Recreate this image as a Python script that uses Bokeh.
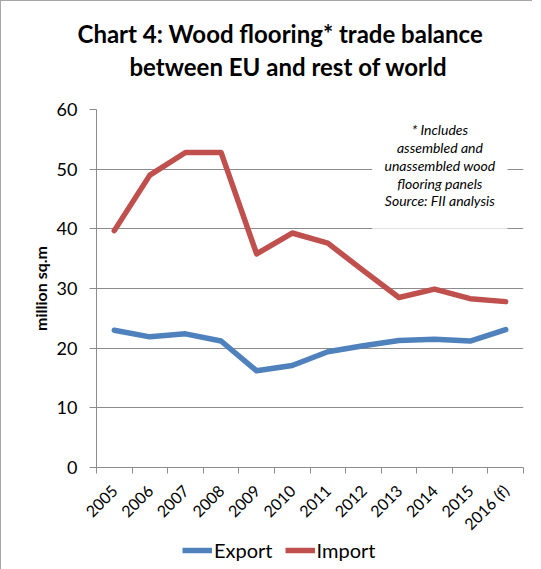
from bokeh.plotting import figure
from bokeh.layouts import column
from bokeh.models import Range1d, FixedTicker, Title, Legend, LegendItem, BoxAnnotation
from bokeh.embed import file_html
from bokeh.resources import INLINE
from bokeh.core.properties import value

years = ["2005", "2006", "2007", "2008", "2009", "2010", "2011", "2012",
         "2013", "2014", "2015", "2016 (f)"]
export = [23.0, 21.9, 22.4, 21.2, 16.2, 17.1, 19.4, 20.4, 21.3, 21.5, 21.2, 23.1]
imports = [39.7, 49.0, 52.8, 52.8, 35.8, 39.3, 37.6, 33.0, 28.5, 29.9, 28.3, 27.8]
y_ticks = [0, 10, 20, 30, 40, 50, 60]
note_lines = ["* Includes", "assembled and", "unassembled wood",
              "flooring panels", "Source: FII analysis"]

FONT = "Lato"
GRAY = "#8c8c8c"
BLUE = "#4F81BD"
RED = "#C0504D"
BORDER = {"border-left": "1px solid #a6a6a6"}

xs = [i + 0.5 for i in range(len(years))]

p = figure(frame_width=426, frame_height=357, output_backend="svg", toolbar_location=None,
           title=None,
           x_range=Range1d(0, len(years)), y_range=Range1d(0, 60),
           min_border_left=95, min_border_right=10, min_border_top=108,
           min_border_bottom=72)
p.outline_line_color = None
p.styles = {"border-left": "1px solid #a6a6a6", "border-top": "1px solid #a6a6a6"}

# titles (two lines)
t2 = Title(text="between EU and rest of world", align="left", offset=33,
           text_font=FONT, text_font_size="24px", text_font_style="bold",
           text_color="black", standoff=58)
t1 = Title(text="Chart 4: Wood flooring* trade balance", align="left", offset=-19,
           text_font=FONT, text_font_size="24px", text_font_style="bold",
           text_color="black", standoff=-54)
p.add_layout(t2, "above")
p.add_layout(t1, "above")

# grid
p.xgrid.grid_line_color = None
p.ygrid.grid_line_color = GRAY
p.ygrid.grid_line_width = 1

# y axis
p.yaxis.ticker = FixedTicker(ticks=y_ticks)
p.yaxis.axis_line_color = GRAY
p.yaxis.major_tick_line_color = GRAY
p.yaxis.major_tick_out = 7
p.yaxis.major_tick_in = 0
p.yaxis.minor_tick_line_color = None
p.yaxis.major_label_text_font = FONT
p.yaxis.major_label_text_font_size = "18px"
p.yaxis.major_label_text_color = "black"
p.yaxis.major_label_standoff = 12
p.yaxis.axis_label = "million sq.m"
p.yaxis.axis_label_text_font = FONT
p.yaxis.axis_label_text_font_size = "16px"
p.yaxis.axis_label_text_font_style = "bold"
p.yaxis.axis_label_text_color = "black"
p.yaxis.axis_label_standoff = 4

# x axis: labels at centres, ticks between categories
p.xaxis.ticker = FixedTicker(ticks=xs, minor_ticks=list(range(len(years) + 1)))
p.xaxis.major_label_overrides = {x: y for x, y in zip(xs, years)}
p.xaxis.axis_line_color = GRAY
p.xaxis.major_tick_line_color = None
p.xaxis.minor_tick_line_color = GRAY
p.xaxis.minor_tick_out = 6
p.xaxis.minor_tick_in = 0
p.xaxis.major_label_orientation = 0.785398
p.xaxis.major_label_text_font = FONT
p.xaxis.major_label_text_font_size = "16px"
p.xaxis.major_label_text_color = "black"
p.xaxis.major_label_standoff = 14

# note box
box = BoxAnnotation(left=7.75, right=11.55, bottom=40, top=59.6,
                    fill_color="white", fill_alpha=1, line_color=None, level="underlay")
p.add_layout(box)
note_y = [56.6, 53.6, 50.6, 47.6, 44.7]
p.text(x=[9.65] * len(note_lines), y=note_y, text=note_lines,
       text_font=value(FONT), text_font_size="14px", text_font_style="italic",
       text_align="center", text_baseline="middle", text_color="black")

# lines
p.line(xs, export, line_color=BLUE, line_width=5.5, line_join="round", line_cap="round")
p.line(xs, imports, line_color=RED, line_width=5.5, line_join="round", line_cap="round")

# legend strip below the chart (same series, drawn out of view so only the key shows)
leg = figure(width=p.frame_width + 105, height=28, output_backend="svg",
             toolbar_location=None, title=None,
             x_range=Range1d(0, len(years)), y_range=Range1d(100, 101),
             min_border_left=0, min_border_right=0, min_border_top=0,
             min_border_bottom=0, x_axis_location=None, y_axis_location=None)
leg.outline_line_color = None
leg.xgrid.grid_line_color = None
leg.ygrid.grid_line_color = None
leg.styles = BORDER
le = leg.line(xs, export, line_color=BLUE, line_width=5.5)
li = leg.line(xs, imports, line_color=RED, line_width=5.5)
legend = Legend(items=[LegendItem(label="Export", renderers=[le]),
                       LegendItem(label="Import", renderers=[li])],
                orientation="horizontal", location=(86, 7),
                label_text_font=FONT, label_text_font_size="20px",
                label_text_color="black", glyph_width=30, glyph_height=20,
                label_standoff=2, spacing=12, padding=0, margin=0,
                border_line_color=None, background_fill_alpha=0)
leg.add_layout(legend)

layout = column(p, leg, spacing=0)
open("out.html", "w").write(file_html(layout, INLINE))
